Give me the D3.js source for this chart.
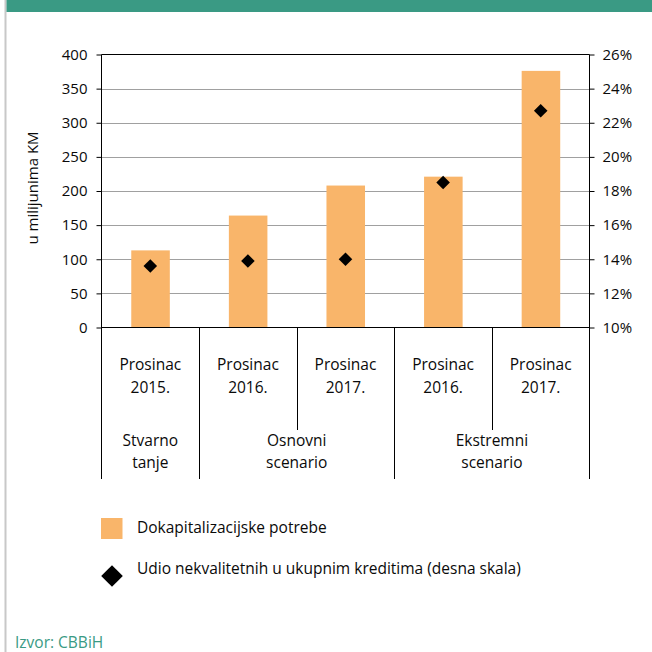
<!DOCTYPE html>
<html>
<head>
<meta charset="utf-8">
<script src="https://cdn.jsdelivr.net/npm/d3@7"></script>
<style>
  html, body { margin: 0; padding: 0; background: #fff; }
  svg { display: block; font-family: "Open Sans", "Noto Sans", sans-serif; }
</style>
</head>
<body>
<svg id="chart" width="652" height="652"></svg>
<script>
// Recapitalisation needs (left axis, millions KM) and NPL share (right axis, %)
const periods = ["Prosinac\n2015.", "Prosinac\n2016.", "Prosinac\n2017.", "Prosinac\n2016.", "Prosinac\n2017."];
const groups = ["Stvarno\ntanje", "Osnovni\nscenario", "Ekstremni\nscenario"];
const groupSizes = [1, 2, 2];
const capitalNeeds = [113, 164, 208, 221, 376];
const nplShare = [13.6, 13.9, 14.0, 18.5, 22.7];
const leftTicks = [0, 50, 100, 150, 200, 250, 300, 350, 400];
const rightTicks = [10, 12, 14, 16, 18, 20, 22, 24, 26];
const legendLabels = ["Dokapitalizacijske potrebe", "Udio nekvalitetnih u ukupnim kreditima (desna skala)"];
const yTitle = "u milijunima KM";
const sourceText = "Izvor: CBBiH";

const svg = d3.select("#chart");
const green = "#3a9a84";
const barColor = "#f9b56a";
const ink = "#0a0a0a";

const plot = { left: 101.5, right: 589.5, top: 54.5, bottom: 327.5 };

const x = d3.scaleBand().domain(d3.range(periods.length)).range([plot.left, plot.right]).padding(0);
const yL = d3.scaleLinear().domain([0, 400]).range([plot.bottom, plot.top]);
const yR = d3.scaleLinear().domain([10, 26]).range([plot.bottom, plot.top]);

// frame: left border line and top banner
svg.append("line").attr("x1", 5.5).attr("x2", 5.5).attr("y1", 0).attr("y2", 652)
  .attr("stroke", "#c8c8c8").attr("stroke-width", 2);
svg.append("rect").attr("x", 6.5).attr("y", 0).attr("width", 646).attr("height", 12).attr("fill", green);

// gridlines
svg.append("g").selectAll("line").data(leftTicks.filter(t => t > 0 && t < 400)).join("line")
  .attr("x1", plot.left).attr("x2", plot.right)
  .attr("y1", d => Math.round(yL(d)) + 0.5).attr("y2", d => Math.round(yL(d)) + 0.5)
  .attr("stroke", "#a0a0a0").attr("stroke-width", 1);

// bars
const bw = x.bandwidth();
svg.append("g").selectAll("rect").data(capitalNeeds).join("rect")
  .attr("x", (d, i) => x(i) + bw * 0.305)
  .attr("width", bw * 0.395)
  .attr("y", d => yL(d))
  .attr("height", d => yL(0) - yL(d))
  .attr("fill", barColor);

// top border of plot
svg.append("line").attr("x1", plot.left).attr("x2", plot.right)
  .attr("y1", plot.top).attr("y2", plot.top).attr("stroke", "#000").attr("stroke-width", 1);

// left axis
const axL = d3.axisLeft(yL).tickValues(leftTicks).tickSize(5).tickPadding(9).tickFormat(d3.format("d"));
const gL = svg.append("g").attr("transform", `translate(${plot.left},0)`).call(axL);
gL.select(".domain").remove();
gL.selectAll("line").attr("stroke", "#000");
gL.selectAll("text").attr("font-size", 15).attr("fill", ink).attr("font-family", "Open Sans, sans-serif");

// right axis
const axR = d3.axisRight(yR).tickValues(rightTicks).tickSize(5).tickPadding(8).tickFormat(d => d + "%");
const gR = svg.append("g").attr("transform", `translate(${plot.right},0)`).call(axR);
gR.select(".domain").remove();
gR.selectAll("line").attr("stroke", "#000");
gR.selectAll("text").attr("font-size", 15).attr("fill", ink).attr("font-family", "Open Sans, sans-serif");

// vertical axis lines, extended down through the category labels
const catBottom = 479;
const innerBottom = 430;
svg.append("line").attr("x1", plot.left).attr("x2", plot.left).attr("y1", plot.top).attr("y2", catBottom)
  .attr("stroke", "#000");
svg.append("line").attr("x1", plot.right).attr("x2", plot.right).attr("y1", plot.top).attr("y2", catBottom)
  .attr("stroke", "#000");

// bottom axis line
svg.append("line").attr("x1", plot.left).attr("x2", plot.right)
  .attr("y1", plot.bottom).attr("y2", plot.bottom).attr("stroke", "#000");

// separators between periods and between groups
const groupStarts = [];
let acc = 0;
groupSizes.forEach(s => { groupStarts.push(acc); acc += s; });
d3.range(1, periods.length).forEach(i => {
  const isGroupEdge = groupStarts.includes(i);
  svg.append("line")
    .attr("x1", Math.round(x(i)) + 0.5).attr("x2", Math.round(x(i)) + 0.5)
    .attr("y1", plot.bottom).attr("y2", isGroupEdge ? catBottom : innerBottom)
    .attr("stroke", "#000");
});

// category labels
const labelFont = 15.5;
periods.forEach((p, i) => {
  const t = svg.append("text").attr("x", x(i) + bw / 2).attr("text-anchor", "middle")
    .attr("font-size", labelFont).attr("fill", ink);
  p.split("\n").forEach((line, k) => {
    t.append("tspan").attr("x", x(i) + bw / 2).attr("y", 370 + k * 23).text(line);
  });
});

// group labels
groups.forEach((g, gi) => {
  const start = groupStarts[gi];
  const cx = (x(start) + x(start + groupSizes[gi] - 1) + bw) / 2;
  const t = svg.append("text").attr("text-anchor", "middle").attr("font-size", labelFont).attr("fill", ink);
  g.split("\n").forEach((line, k) => {
    t.append("tspan").attr("x", cx).attr("y", 446 + k * 21.5).text(line);
  });
});

// diamonds for NPL share
const diamond = d3.symbol().type(d3.symbolSquare).size(92);
svg.append("g").selectAll("path").data(nplShare).join("path")
  .attr("d", diamond)
  .attr("transform", (d, i) => `translate(${x(i) + bw / 2},${yR(d)}) rotate(45)`)
  .attr("fill", "#000");

// y-axis title
svg.append("text")
  .attr("transform", `translate(38,188) rotate(-90)`)
  .attr("text-anchor", "middle").attr("font-size", 15).attr("fill", ink)
  .text(yTitle);

// legend
svg.append("rect").attr("x", 101).attr("y", 518).attr("width", 21.5).attr("height", 21).attr("fill", barColor);
svg.append("text").attr("x", 137).attr("y", 533).attr("font-size", labelFont).attr("fill", ink).text(legendLabels[0]);
svg.append("path").attr("d", d3.symbol().type(d3.symbolSquare).size(235)())
  .attr("transform", "translate(112,576) rotate(45)").attr("fill", "#000");
svg.append("text").attr("x", 137).attr("y", 574).attr("font-size", labelFont).attr("fill", ink).text(legendLabels[1]);

// source note
svg.append("text").attr("x", 15).attr("y", 648).attr("font-size", 15.5).attr("fill", green).text(sourceText);
</script>
</body>
</html>
